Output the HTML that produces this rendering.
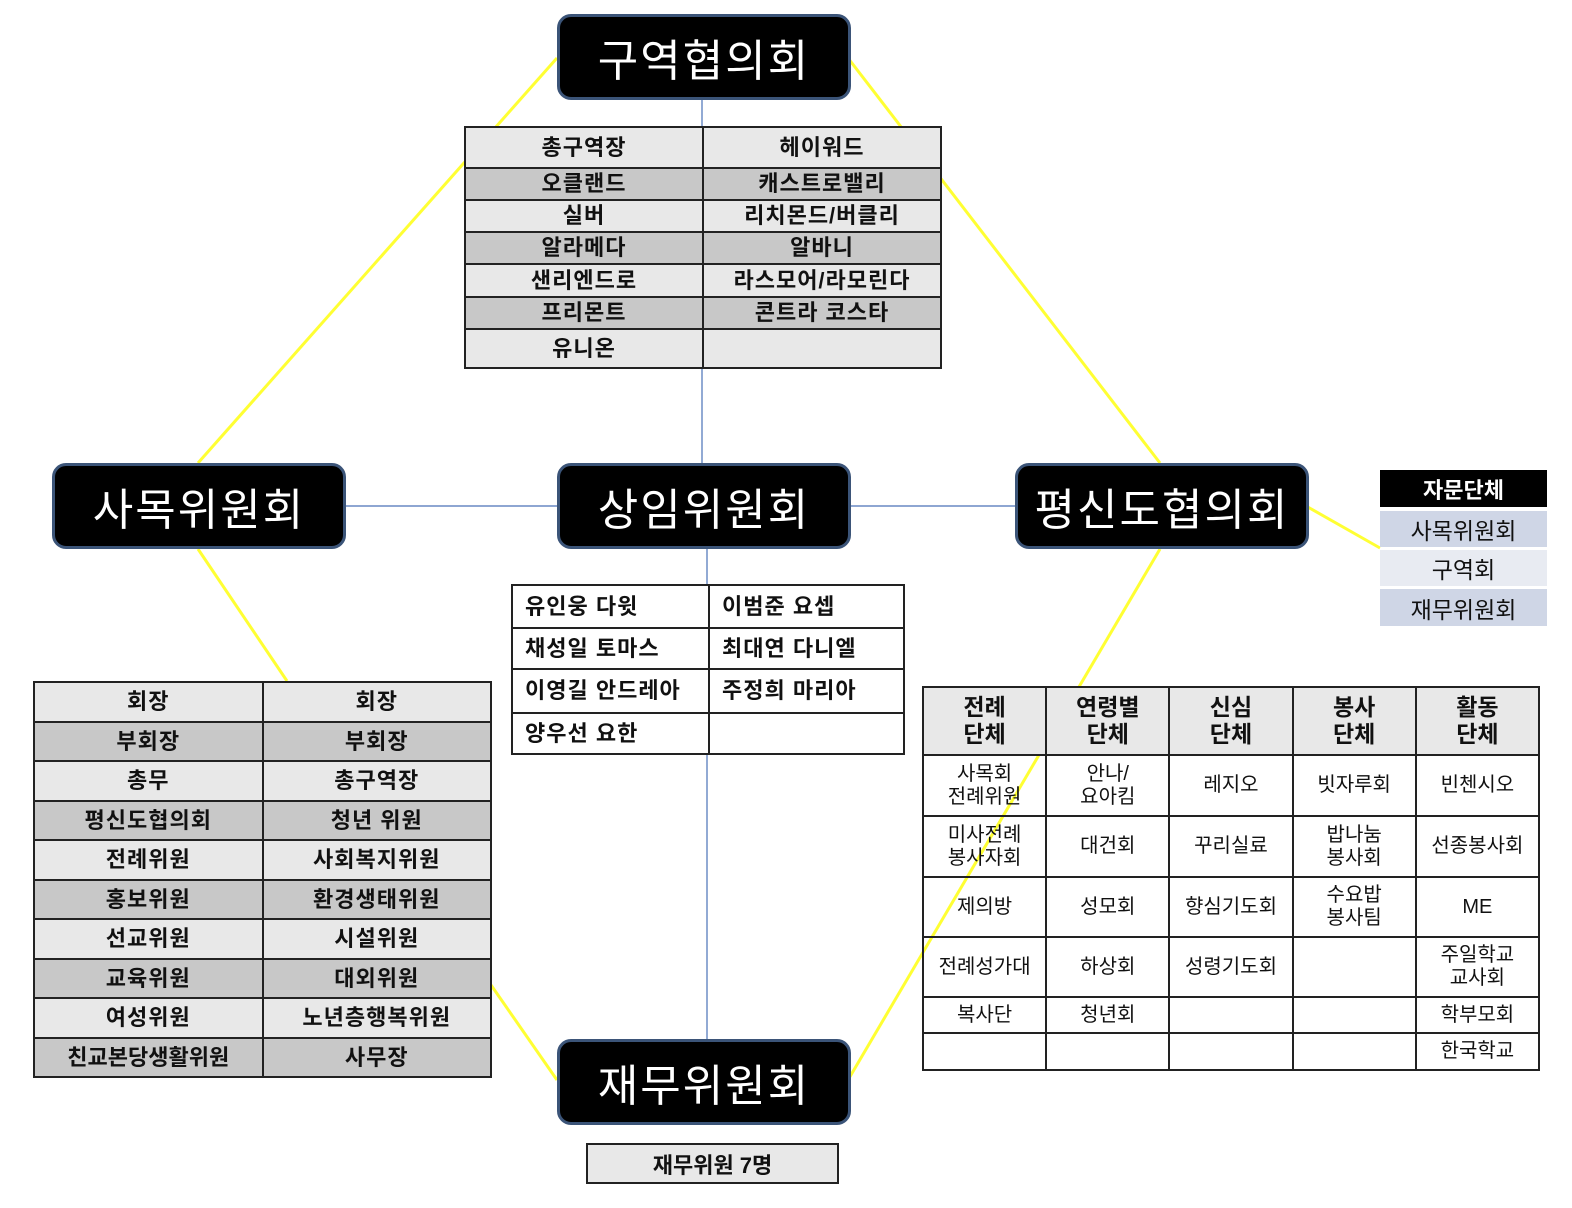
<!DOCTYPE html>
<html><head><meta charset="utf-8"><style>
body{margin:0;width:1572px;height:1208px;background:#fff;position:relative;overflow:hidden;font-family:"Liberation Sans","Noto Sans CJK KR","NanumGothic",sans-serif;}
.box{position:absolute;width:288px;height:80px;background:#000;border:3px solid #3b5478;border-radius:14px;color:#fff;font-size:44px;letter-spacing:2px;display:flex;align-items:center;justify-content:center;box-sizing:content-box;}
table{position:absolute;border-collapse:collapse;table-layout:fixed;}
td{border:2px solid #222;padding:0;text-align:center;color:#111;line-height:1;}
.b td{font-weight:bold;font-size:22px;letter-spacing:1px;}
.l{background:#e8e8e8}.d{background:#c8c8c8}
.mid td{background:#fff;text-align:left;padding-left:12px;font-weight:bold;font-size:22px;letter-spacing:1px;}
.rt td{font-size:20px;line-height:23px;}
.rt tr.h td{background:#e8e8e8;font-weight:bold;font-size:23px;line-height:27px;}
</style></head><body>
<svg width="1572" height="1208" style="position:absolute;left:0;top:0">
<g stroke="#ffff33" stroke-width="3">
<line x1="557" y1="58" x2="198" y2="463"/>
<line x1="848" y1="58" x2="1160" y2="463"/>
<line x1="198" y1="549" x2="287" y2="681"/>
<line x1="491" y1="985" x2="557" y2="1080"/>
<line x1="1306" y1="506" x2="1380" y2="548"/>
<line x1="1160" y1="549" x2="848" y2="1080"/>
</g>
<g stroke="#4a72b8" stroke-width="1.2">
<line x1="702" y1="100" x2="702" y2="463"/>
<line x1="707" y1="549" x2="707" y2="1039"/>
<line x1="343" y1="506" x2="557" y2="506"/>
<line x1="848" y1="506" x2="1015" y2="506"/>
</g>
</svg>
<div class="box" style="left:557px;top:14px">구역협의회</div>
<div class="box" style="left:557px;top:463px">상임위원회</div>
<div class="box" style="left:52px;top:463px">사목위원회</div>
<div class="box" style="left:1015px;top:463px">평신도협의회</div>
<div class="box" style="left:557px;top:1039px">재무위원회</div>

<table class="b" style="left:464px;top:126px;width:478px">
<tr class="l" style="height:41px"><td>총구역장</td><td>헤이워드</td></tr>
<tr class="d" style="height:32px"><td>오클랜드</td><td>캐스트로밸리</td></tr>
<tr class="l" style="height:32px"><td>실버</td><td>리치몬드/버클리</td></tr>
<tr class="d" style="height:32px"><td>알라메다</td><td>알바니</td></tr>
<tr class="l" style="height:33px"><td>샌리엔드로</td><td>라스모어/라모린다</td></tr>
<tr class="d" style="height:32px"><td>프리몬트</td><td>콘트라 코스타</td></tr>
<tr class="l" style="height:39px"><td>유니온</td><td></td></tr>
</table>

<table class="mid" style="left:511px;top:584px;width:394px">
<tr style="height:43px"><td style="width:183px">유인웅 다윗</td><td>이범준 요셉</td></tr>
<tr style="height:41px"><td>채성일 토마스</td><td>최대연 다니엘</td></tr>
<tr style="height:44px"><td>이영길 안드레아</td><td>주정희 마리아</td></tr>
<tr style="height:41px"><td>양우선 요한</td><td></td></tr>
</table>

<table class="b" style="left:33px;top:681px;width:459px">
<tr class="l" style="height:40px"><td>회장</td><td>회장</td></tr>
<tr class="d" style="height:39px"><td>부회장</td><td>부회장</td></tr>
<tr class="l" style="height:40px"><td>총무</td><td>총구역장</td></tr>
<tr class="d" style="height:39px"><td>평신도협의회</td><td>청년 위원</td></tr>
<tr class="l" style="height:40px"><td>전례위원</td><td>사회복지위원</td></tr>
<tr class="d" style="height:39px"><td>홍보위원</td><td>환경생태위원</td></tr>
<tr class="l" style="height:40px"><td>선교위원</td><td>시설위원</td></tr>
<tr class="d" style="height:39px"><td>교육위원</td><td>대외위원</td></tr>
<tr class="l" style="height:40px"><td>여성위원</td><td>노년층행복위원</td></tr>
<tr class="d" style="height:39px"><td style="letter-spacing:0">친교본당생활위원</td><td>사무장</td></tr>
</table>

<table class="rt" style="left:922px;top:686px;width:618px">
<tr class="h" style="height:68px"><td>전례<br>단체</td><td>연령별<br>단체</td><td>신심<br>단체</td><td>봉사<br>단체</td><td>활동<br>단체</td></tr>
<tr style="height:61px"><td>사목회<br>전례위원</td><td>안나/<br>요아킴</td><td>레지오</td><td>빗자루회</td><td>빈첸시오</td></tr>
<tr style="height:61px"><td>미사전례<br>봉사자회</td><td>대건회</td><td>꾸리실료</td><td>밥나눔<br>봉사회</td><td>선종봉사회</td></tr>
<tr style="height:60px"><td>제의방</td><td>성모회</td><td>향심기도회</td><td>수요밥<br>봉사팀</td><td>ME</td></tr>
<tr style="height:60px"><td>전례성가대</td><td>하상회</td><td>성령기도회</td><td></td><td>주일학교<br>교사회</td></tr>
<tr style="height:36px"><td>복사단</td><td>청년회</td><td></td><td></td><td>학부모회</td></tr>
<tr style="height:37px"><td></td><td></td><td></td><td></td><td>한국학교</td></tr>
</table>

<div style="position:absolute;left:1380px;top:470px;width:167px;height:37px;background:#000;color:#fff;font-weight:bold;font-size:22px;display:flex;align-items:center;justify-content:center">자문단체</div>
<div style="position:absolute;left:1380px;top:511px;width:167px;height:36px;background:#cfd6e6;font-size:23px;display:flex;align-items:center;justify-content:center;color:#111">사목위원회</div>
<div style="position:absolute;left:1380px;top:550px;width:167px;height:36px;background:#e8ebf2;font-size:23px;display:flex;align-items:center;justify-content:center;color:#111">구역회</div>
<div style="position:absolute;left:1380px;top:589px;width:167px;height:37px;background:#cfd6e6;font-size:23px;display:flex;align-items:center;justify-content:center;color:#111">재무위원회</div>

<div style="position:absolute;left:586px;top:1143px;width:249px;height:37px;background:#e8e8e8;border:2px solid #222;font-weight:bold;font-size:22px;display:flex;align-items:center;justify-content:center;color:#111">재무위원 7명</div>
</body></html>
